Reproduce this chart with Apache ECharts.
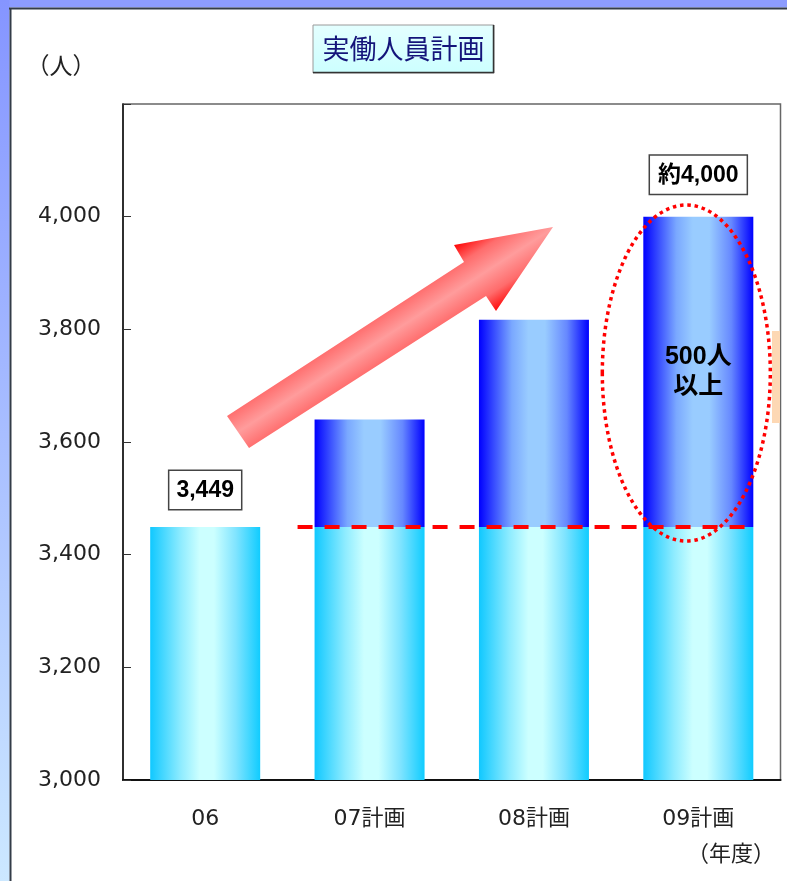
<!DOCTYPE html>
<html>
<head>
<meta charset="utf-8">
<script src="https://cdn.jsdelivr.net/npm/echarts@6/dist/echarts.min.js"></script>
<style>
html, body { margin: 0; padding: 0; background: #fff; }
#chart { width: 787px; height: 881px; }
</style>
</head>
<body>
<div id="chart"></div>
<script>
// Fiscal years on the x axis
const categories = ['06', '07計画', '08計画', '09計画'];
// Actual headcount in FY06, used as the common base of every bar
const baseValues = [3449, 3449, 3449, 3449];
// Planned total headcount per year
const totals = [3449, 3640, 3817, 4000];
// Value axis range and step
const yMin = 3000;
const yMax = 4200;
const yStep = 200;

const baseLabel = '3,449';
const topLabel = '約4,000';
const increaseLabel = '500人\n以上';

const increase = totals.map((t, i) => (i === 0 ? '-' : t - baseValues[i]));

const lowerFill = new echarts.graphic.LinearGradient(0, 0, 1, 0, [
  { offset: 0, color: '#10c8ff' },
  { offset: 0.28, color: '#8fecff' },
  { offset: 0.45, color: '#ccffff' },
  { offset: 0.58, color: '#ccffff' },
  { offset: 0.78, color: '#80e4ff' },
  { offset: 1, color: '#10ccff' }
]);
const upperFill = new echarts.graphic.LinearGradient(0, 0, 1, 0, [
  { offset: 0, color: '#0000ff' },
  { offset: 0.3, color: '#7aa8ff' },
  { offset: 0.45, color: '#99ccff' },
  { offset: 0.6, color: '#99ccff' },
  { offset: 0.8, color: '#6688ff' },
  { offset: 1, color: '#0000ff' }
]);

const boxLabel = {
  show: true,
  position: 'top',
  color: '#000',
  fontFamily: 'Liberation Sans, Arial, Noto Sans CJK JP, sans-serif',
  fontWeight: 'bold',
  fontSize: 23,
  backgroundColor: '#fff',
  borderColor: '#444',
  borderWidth: 1.5,
  padding: [8, 7, 7, 7]
};

const chart = echarts.init(document.getElementById('chart'), null, { renderer: 'canvas' });

chart.setOption({
  backgroundColor: '#fff',
  animation: false,
  grid: {
    left: 123, top: 104, right: 6.5, bottom: 101,
    show: true, borderColor: '#666', borderWidth: 1.5, backgroundColor: 'transparent'
  },
  xAxis: {
    type: 'category',
    data: categories,
    axisLine: { lineStyle: { color: '#111', width: 2 } },
    axisTick: { inside: true, length: 7, lineStyle: { color: '#333' } },
    axisLabel: {
      margin: 28,
      fontSize: 22,
      color: '#222',
      fontFamily: 'DejaVu Sans, Noto Sans CJK JP, sans-serif'
    }
  },
  yAxis: {
    type: 'value',
    min: yMin, max: yMax, interval: yStep,
    splitLine: { show: false },
    axisLine: { show: true, lineStyle: { color: '#111', width: 1.5 } },
    axisTick: { show: true, inside: true, length: 8, lineStyle: { color: '#333' } },
    axisLabel: {
      margin: 22,
      fontSize: 22,
      color: '#222',
      fontFamily: 'DejaVu Sans, sans-serif',
      formatter: v => (v >= yMax ? '' : v.toLocaleString('en-US'))
    }
  },
  series: [
    {
      name: 'base',
      type: 'bar',
      stack: 'plan',
      barWidth: 110,
      itemStyle: { color: lowerFill },
      data: baseValues.map((v, i) =>
        i === 0
          ? { value: v, label: Object.assign({}, boxLabel, { distance: 18, formatter: baseLabel }) }
          : v
      )
    },
    {
      name: 'increase',
      type: 'bar',
      stack: 'plan',
      barWidth: 110,
      itemStyle: { color: upperFill },
      data: increase.map((v, i) =>
        i === 3
          ? { value: v, label: Object.assign({}, boxLabel, { distance: 23, formatter: topLabel, padding: [8, 8, 7, 8] }) }
          : v
      ),
      markPoint: {
        symbol: 'rect',
        symbolSize: 1,
        itemStyle: { color: 'transparent' },
        label: {
          show: true,
          position: 'inside',
          formatter: increaseLabel,
          color: '#000',
          fontWeight: 'bold',
          fontSize: 25,
          lineHeight: 30,
          fontFamily: 'Liberation Sans, Arial, Noto Sans CJK JP, sans-serif'
        },
        data: [{ coord: [categories[3], (baseValues[3] + totals[3]) / 2] }]
      }
    }
  ]
});

// Decorations that depend on the axis scale
const baseY = chart.convertToPixel({ yAxisIndex: 0 }, baseValues[0]);
const c1 = chart.convertToPixel({ xAxisIndex: 0 }, categories[1]);
const c3 = chart.convertToPixel({ xAxisIndex: 0 }, categories[3]);

// Rising arrow, shaded across its width
const arrowFill = new echarts.graphic.LinearGradient(216, 398, 260, 466, [
  { offset: 0, color: '#ff0000' },
  { offset: 0.24, color: '#ff6c6c' },
  { offset: 0.5, color: '#ff9c9c' },
  { offset: 0.76, color: '#ff6c6c' },
  { offset: 1, color: '#ff0000' }
], true);

const leftBand = new echarts.graphic.LinearGradient(0, 0, 0, 1, [
  { offset: 0, color: '#8595ff' },
  { offset: 1, color: '#cce8ff' }
]);

chart.setOption({
  graphic: [
    // page frame
    { type: 'rect', z: 50, shape: { x: 0, y: 0, width: 787, height: 7.5 }, style: { fill: '#8c9cff' } },
    { type: 'rect', z: 50, shape: { x: 0, y: 0, width: 9.5, height: 881 }, style: { fill: leftBand } },
    { type: 'line', z: 51, shape: { x1: 9, y1: 8.5, x2: 787, y2: 8.5 }, style: { stroke: '#333c48', lineWidth: 2 } },
    { type: 'line', z: 51, shape: { x1: 10.5, y1: 8, x2: 10.5, y2: 881 }, style: { stroke: '#333c48', lineWidth: 2 } },
    // title box
    {
      type: 'rect', z: 50,
      shape: { x: 313, y: 25, width: 181, height: 48 },
      style: {
        fill: new echarts.graphic.LinearGradient(0, 0, 0, 1, [
          { offset: 0, color: '#e4ffff' }, { offset: 1, color: '#ccffff' }
        ]),
        stroke: '#9a9a9a', lineWidth: 1
      }
    },
    { type: 'polyline', z: 51, shape: { points: [[493.5, 25], [493.5, 72.5], [313, 72.5]] }, style: { stroke: '#333', lineWidth: 1.5, fill: null } },
    {
      type: 'text', z: 52, x: 403.5, y: 49,
      style: {
        text: '実働人員計画', fill: '#14147a', fontSize: 27,
        fontFamily: 'Noto Sans CJK JP, sans-serif',
        align: 'center', verticalAlign: 'middle'
      }
    },
    // unit labels
    {
      type: 'text', z: 52, x: 61, y: 65,
      style: { text: '（人）', fill: '#222', fontSize: 23, fontFamily: 'Noto Sans CJK JP, sans-serif', align: 'center', verticalAlign: 'middle' }
    },
    {
      type: 'text', z: 52, x: 731, y: 853,
      style: { text: '（年度）', fill: '#222', fontSize: 22, fontFamily: 'Noto Sans CJK JP, sans-serif', align: 'center', verticalAlign: 'middle' }
    },
    // partly hidden note box at the right edge
    { type: 'rect', z: 40, shape: { x: 772, y: 331, width: 8, height: 92 }, style: { fill: '#fdd8b4' } },
    // growth arrow
    {
      type: 'polygon', z: 60,
      shape: { points: [[227, 416], [464, 262], [454, 245], [553, 227], [496, 311], [486, 296], [249, 448]] },
      style: { fill: arrowFill }
    },
    // FY06 level reference line
    {
      type: 'line', z: 60,
      shape: { x1: c1 - 72, y1: baseY, x2: c3 + 58, y2: baseY },
      style: { stroke: '#ff0000', lineWidth: 4, lineDash: [15, 12] }
    },
    // highlight around the FY09 increase
    {
      type: 'ellipse', z: 61,
      shape: { cx: c3 - 12, cy: 373, rx: 84, ry: 168 },
      style: { fill: null, stroke: '#ff0000', lineWidth: 3.5, lineDash: [3.5, 3.8] }
    }
  ]
});
</script>
</body>
</html>
